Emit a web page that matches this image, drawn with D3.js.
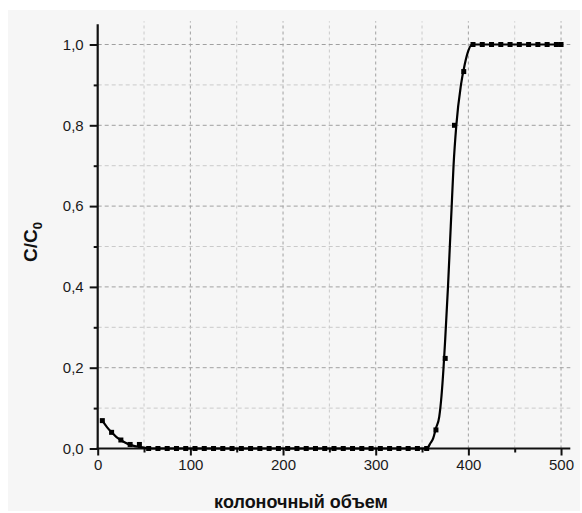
<!DOCTYPE html>
<html>
<head>
<meta charset="utf-8">
<script src="https://d3js.org/d3.v7.min.js"></script>
<style>
body{margin:0;background:#fff;}
svg{display:block;}
svg text{font-family:"Liberation Sans",Arial,sans-serif;}
</style>
</head>
<body>
<svg id="chart" width="582" height="513"></svg>
<script>
// measured points
const pointX = [5,15,25,35,45,55,65,75,85,95,105,115,125,135,145,155,165,175,185,195,205,215,225,235,245,255,265,275,285,295,305,315,325,335,345,355,365,375,385,395,405,415,425,435,445,455,465,475,485,495,500];
const pointY = [0.069,0.04,0.021,0.01,0.01,0,0,0,0,0,0,0,0,0,0,0,0,0,0,0,0,0,0,0,0,0,0,0,0,0,0,0,0,0,0,0,0.046,0.223,0.8,0.933,1,1,1,1,1,1,1,1,1,1,1];
// fitted curve
const fitX = [5,10,15,20,25,30,35,40,45,50,55,60,355,359,362,365,368.6,371,373.2,375,378,380,382,384,387,392,396,400,404,500];
const fitY = [0.069,0.053,0.04,0.029,0.021,0.014,0.009,0.006,0.004,0.002,0.001,0,0,0.013,0.025,0.05,0.079,0.13,0.2,0.27,0.4,0.5,0.6,0.7,0.8,0.9,0.95,0.985,1.0,1.0];
const xTicks = [0,100,200,300,400,500];
const xMinor = [50,150,250,350,450];
const yTicks = [0,0.2,0.4,0.6,0.8,1.0];
const yMinor = [0.1,0.3,0.5,0.7,0.9];
const xTitle = "колоночный объем";

const svg = d3.select("#chart");
svg.append("rect").attr("x",8).attr("y",10).attr("width",572).attr("height",501).attr("fill","#f6f6f6");

const x = d3.scaleLinear().domain([0,510]).range([97.7,570.3]);
const y = d3.scaleLinear().domain([0,1.05]).range([448.5,24.3]);

const fmt = d => d3.format(".1f")(d).replace(".", ",");

// grid
const g = svg.append("g");
g.selectAll(".vmaj").data(xTicks.filter(d=>d>0)).join("line")
  .attr("x1",d=>x(d)).attr("x2",d=>x(d)).attr("y1",y(0)).attr("y2",y(1.05)-3)
  .attr("stroke","#a0a0a0").attr("stroke-width",1).attr("stroke-dasharray","3,3");
g.selectAll(".vmin").data(xMinor).join("line")
  .attr("x1",d=>x(d)).attr("x2",d=>x(d)).attr("y1",y(0)).attr("y2",y(1.05)-3)
  .attr("stroke","#cacaca").attr("stroke-width",1).attr("stroke-dasharray","3,3");
g.selectAll(".hmaj").data(yTicks.filter(d=>d>0)).join("line")
  .attr("x1",x(0)).attr("x2",x(510)).attr("y1",d=>y(d)).attr("y2",d=>y(d))
  .attr("stroke","#a0a0a0").attr("stroke-width",1).attr("stroke-dasharray","4,3");
g.selectAll(".hmin").data(yMinor).join("line")
  .attr("x1",x(0)).attr("x2",x(510)).attr("y1",d=>y(d)).attr("y2",d=>y(d))
  .attr("stroke","#cacaca").attr("stroke-width",1).attr("stroke-dasharray","4,3");

// axes
const xAxis = d3.axisBottom(x).tickValues(xTicks).tickFormat(d3.format("d")).tickSize(7).tickPadding(4);
const xAxisMinor = d3.axisBottom(x).tickValues(xMinor).tickFormat("").tickSize(4);
const yAxis = d3.axisLeft(y).tickValues(yTicks).tickFormat(fmt).tickSize(8).tickPadding(6);
const yAxisMinor = d3.axisLeft(y).tickValues(yMinor).tickFormat("").tickSize(4);

function styleAxis(sel){
  sel.attr("font-family",null).attr("font-size",null);
  sel.select(".domain").remove();
  sel.selectAll("line").attr("stroke","#111").attr("stroke-width",2);
  sel.selectAll("text").attr("fill","#1a1a1a").style("font-size","15px");
}
svg.append("g").attr("transform",`translate(0,${y(0)})`).call(xAxis).call(styleAxis);
svg.append("g").attr("transform",`translate(0,${y(0)})`).call(xAxisMinor).call(styleAxis);
svg.append("g").attr("transform",`translate(${x(0)},0)`).call(yAxis).call(styleAxis);
svg.append("g").attr("transform",`translate(${x(0)},0)`).call(yAxisMinor).call(styleAxis);

svg.append("line").attr("x1",x(0)-1).attr("x2",x(510)).attr("y1",y(0)).attr("y2",y(0)).attr("stroke","#111").attr("stroke-width",2.2);
svg.append("line").attr("x1",x(0)).attr("x2",x(0)).attr("y1",y(0)+1).attr("y2",y(1.05)).attr("stroke","#111").attr("stroke-width",2.2);

// curve
const fit = fitX.map((d,i)=>[d,fitY[i]]);
svg.append("path").datum(fit)
  .attr("d", d3.line().x(d=>x(d[0])).y(d=>y(d[1])).curve(d3.curveMonotoneX))
  .attr("fill","none").attr("stroke","#000").attr("stroke-width",2.2);

// points
const pts = pointX.map((d,i)=>[d,pointY[i]]);
svg.selectAll(".pt").data(pts).join("rect")
  .attr("x",d=>x(d[0])-2.5).attr("y",d=>y(d[1])-2.5)
  .attr("width",5).attr("height",5).attr("fill","#000");

// titles
svg.append("text").attr("x",301).attr("y",508).attr("text-anchor","middle")
  .style("font-size","18px").style("font-weight","bold").attr("fill","#111").text(xTitle);
const yt = svg.append("text").attr("transform","translate(37,242) rotate(-90)").attr("text-anchor","middle")
  .style("font-size","19px").style("font-weight","bold").attr("fill","#111");
yt.append("tspan").text("C/C");
yt.append("tspan").attr("dy",5).style("font-size","13px").text("0");
</script>
</body>
</html>
